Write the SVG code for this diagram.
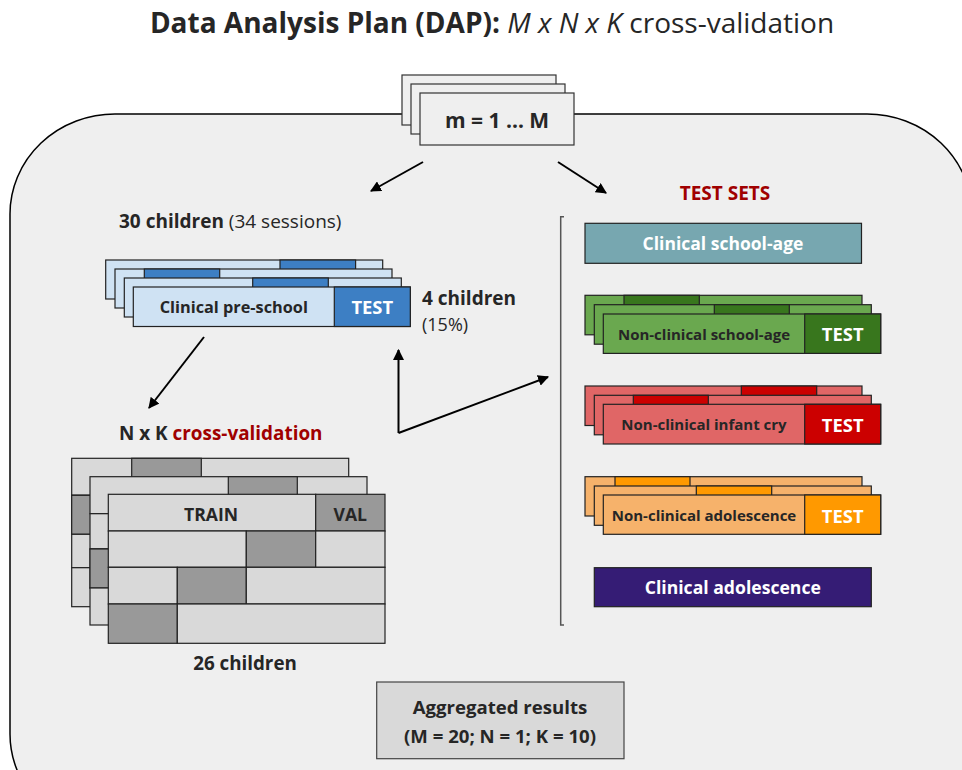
<svg xmlns="http://www.w3.org/2000/svg" width="962" height="770" viewBox="0 0 962 770">
  <defs>
    <marker id="arrow" viewBox="0 0 10 10" refX="9" refY="5" markerWidth="5.5" markerHeight="5.5" orient="auto" markerUnits="strokeWidth">
      <path d="M0,0 L10,5 L0,10 z" fill="#000"/>
    </marker>
  </defs>
  <style>
    text { font-family: "Open Sans", Lato, "Liberation Sans", sans-serif; fill: #262626; }
    .b { font-weight: bold; }
    .w { fill: #ffffff; font-weight: bold; }
    .red { fill: #a00000; }
    .edge { stroke: #222; stroke-width: 1.2; }
    .conn { stroke: #000; stroke-width: 2; fill: none; marker-end: url(#arrow); }
    .m { fill: #efefef; stroke: #333; stroke-width: 1.2; }
    .lb { fill: #cfe2f3; } .db { fill: #3d7fc4; }
    .lg { fill: #d9d9d9; } .dg { fill: #999999; }
    .lgr { fill: #6aa84f; } .dgr { fill: #38761d; }
    .lr { fill: #e06666; } .dr { fill: #cc0000; }
    .lo { fill: #f6b26b; } .do { fill: #ff9900; }
  </style>

  <rect width="962" height="770" fill="#ffffff"/>

  <!-- title -->
  <text x="492" y="33" text-anchor="middle" font-size="28"><tspan class="b">Data Analysis Plan (DAP):</tspan><tspan font-style="italic"> M x N x K</tspan> cross-validation</text>

  <!-- outer frame -->
  <rect x="10" y="114" width="962" height="720" rx="105" ry="100" fill="#efefef" stroke="#000" stroke-width="1.5"/>

  <!-- outer loop m = 1 ... M -->
  <g id="loop-m">
    <rect class="m" x="402" y="75" width="154" height="50"/>
    <rect class="m" x="411" y="84" width="154" height="50"/>
    <rect class="m" x="420" y="93" width="154" height="52"/>
    <text x="497" y="128" text-anchor="middle" font-size="21" class="b">m = 1 … M</text>
  </g>

  <!-- connectors -->
  <g id="connectors">
    <line class="conn" x1="423" y1="162" x2="371" y2="191"/>
    <line class="conn" x1="558" y1="162" x2="606" y2="193"/>
    <line class="conn" x1="204" y1="337" x2="149" y2="408"/>
    <polyline class="conn" points="398.5,433 398.5,350"/>
    <line x1="398.5" y1="433" x2="548" y2="377" class="conn"/>
  </g>

  <!-- training population -->
  <g id="preschool-label">
    <text x="119" y="228" font-size="19"><tspan class="b">30 children</tspan> (34 sessions)</text>
  </g>

  <g id="clinical-preschool">
    <rect class="lb edge" x="105.7" y="260" width="277" height="39"/>
    <rect class="db edge" x="280" y="260" width="75.6" height="39"/>
    <rect class="lb edge" x="115" y="269" width="277" height="39"/>
    <rect class="db edge" x="144.3" y="269" width="75.4" height="39"/>
    <rect class="lb edge" x="124.3" y="278" width="277" height="39"/>
    <rect class="db edge" x="252.7" y="278" width="75.6" height="39"/>
    <rect class="lb edge" x="133.3" y="287" width="277" height="39.5"/>
    <rect class="db edge" x="334.3" y="287" width="76" height="39.5"/>
    <text x="233.8" y="313" text-anchor="middle" font-size="16.3" class="b">Clinical pre-school</text>
    <text x="372.3" y="314" text-anchor="middle" font-size="18.4" class="w">TEST</text>
  </g>

  <g id="test-count">
    <text x="422" y="305" font-size="19" class="b">4 children</text>
    <text x="422" y="331" font-size="18">(15%)</text>
  </g>

  <!-- inner N x K cross-validation -->
  <g id="cv-label">
    <text x="119" y="440" font-size="18.9" class="b">N x K <tspan class="red">cross-validation</tspan></text>
  </g>

  <g id="cv-grid">
    <!-- back layer -->
    <rect class="lg edge" x="71.7" y="458.3" width="277" height="37"/>
    <rect class="dg edge" x="131.7" y="458.3" width="69.6" height="37"/>
    <rect class="lg edge" x="71.7" y="495.3" width="277" height="39"/>
    <rect class="dg edge" x="71.7" y="495.3" width="69.3" height="39"/>
    <rect class="lg edge" x="71.7" y="534.3" width="277" height="33.4"/>
    <rect class="lg edge" x="71.7" y="567.7" width="277" height="39"/>
    <!-- middle layer -->
    <rect class="lg edge" x="90" y="476.7" width="277" height="37"/>
    <rect class="dg edge" x="228.3" y="476.7" width="69" height="37"/>
    <rect class="lg edge" x="90" y="513.7" width="277" height="35.3"/>
    <rect class="lg edge" x="90" y="549" width="277" height="39"/>
    <rect class="dg edge" x="90" y="549" width="69.3" height="39"/>
    <rect class="lg edge" x="90" y="588" width="277" height="37"/>
    <!-- front layer -->
    <rect class="lg edge" x="108.3" y="494.3" width="207.4" height="36.7"/>
    <rect class="dg edge" x="315.7" y="494.3" width="69.3" height="36.7"/>
    <rect class="lg edge" x="108.3" y="531" width="138" height="36.3"/>
    <rect class="dg edge" x="246.3" y="531" width="69.4" height="36.3"/>
    <rect class="lg edge" x="315.7" y="531" width="69.3" height="36.3"/>
    <rect class="lg edge" x="108.3" y="567.3" width="69" height="36.7"/>
    <rect class="dg edge" x="177.3" y="567.3" width="69" height="36.7"/>
    <rect class="lg edge" x="246.3" y="567.3" width="138.7" height="36.7"/>
    <rect class="dg edge" x="108.3" y="604" width="69" height="39.3"/>
    <rect class="lg edge" x="177.3" y="604" width="207.7" height="39.3"/>
    <text x="211" y="520.5" text-anchor="middle" font-size="17.6" class="b">TRAIN</text>
    <text x="350.3" y="520.5" text-anchor="middle" font-size="17.6" class="b">VAL</text>
  </g>

  <g id="train-count">
    <text x="245" y="670" text-anchor="middle" font-size="18.8" class="b">26 children</text>
  </g>

  <!-- test sets -->
  <g id="test-sets-bracket">
    <path d="M564,216.7 H560.7 V625 H564" fill="none" stroke="#555" stroke-width="1.5"/>
    <text x="725" y="200" text-anchor="middle" font-size="19" class="b red">TEST SETS</text>
  </g>

  <g id="clinical-school-age">
    <rect x="585" y="223.3" width="276.5" height="40" fill="#77a7b0" class="edge"/>
    <text x="723" y="250" text-anchor="middle" font-size="17.5" class="w">Clinical school-age</text>
  </g>

  <g id="nonclinical-school-age">
    <rect class="lgr edge" x="585" y="295.3" width="277" height="39.5"/>
    <rect class="dgr edge" x="624" y="295.3" width="75.3" height="39.5"/>
    <rect class="lgr edge" x="594.3" y="304.7" width="277" height="39.5"/>
    <rect class="dgr edge" x="714.3" y="304.7" width="75" height="39.5"/>
    <rect class="lgr edge" x="603.3" y="314" width="277.4" height="39.4"/>
    <rect class="dgr edge" x="804.7" y="314" width="76" height="39.4"/>
    <text x="704" y="339.5" text-anchor="middle" font-size="15" class="b">Non-clinical school-age</text>
    <text x="842.7" y="341" text-anchor="middle" font-size="18.4" class="w">TEST</text>
  </g>

  <g id="nonclinical-infant-cry">
    <rect class="lr edge" x="585" y="386" width="277" height="39.5"/>
    <rect class="dr edge" x="741.3" y="386" width="75.4" height="39.5"/>
    <rect class="lr edge" x="594.3" y="395.3" width="277" height="39.5"/>
    <rect class="dr edge" x="633.3" y="395.3" width="75" height="39.5"/>
    <rect class="lr edge" x="603.3" y="404.3" width="277.4" height="39.7"/>
    <rect class="dr edge" x="804.7" y="404.3" width="76" height="39.7"/>
    <text x="704" y="430" text-anchor="middle" font-size="15" class="b">Non-clinical infant cry</text>
    <text x="842.7" y="431.5" text-anchor="middle" font-size="18.4" class="w">TEST</text>
  </g>

  <g id="nonclinical-adolescence">
    <rect class="lo edge" x="585" y="476.7" width="277" height="39.3"/>
    <rect class="do edge" x="615" y="476.7" width="75" height="39.3"/>
    <rect class="lo edge" x="594.3" y="486" width="277" height="39.3"/>
    <rect class="do edge" x="696.3" y="486" width="75.4" height="39.3"/>
    <rect class="lo edge" x="603.3" y="495" width="277.4" height="39.3"/>
    <rect class="do edge" x="804.7" y="495" width="76" height="39.3"/>
    <text x="704" y="521" text-anchor="middle" font-size="15" class="b">Non-clinical adolescence</text>
    <text x="842.7" y="522.5" text-anchor="middle" font-size="18.4" class="w">TEST</text>
  </g>

  <g id="clinical-adolescence">
    <rect x="594.3" y="567.7" width="277" height="39" fill="#351c75" class="edge"/>
    <text x="732.8" y="594" text-anchor="middle" font-size="17.6" class="w">Clinical adolescence</text>
  </g>

  <!-- aggregation -->
  <g id="aggregated-results">
    <rect x="376.7" y="682" width="247.3" height="76.7" fill="#d9d9d9" stroke="#444" stroke-width="1.2"/>
    <text x="500" y="714" text-anchor="middle" font-size="18.6" class="b">Aggregated results</text>
    <text x="500" y="743" text-anchor="middle" font-size="18.6" class="b">(M = 20; N = 1; K = 10)</text>
  </g>
</svg>
